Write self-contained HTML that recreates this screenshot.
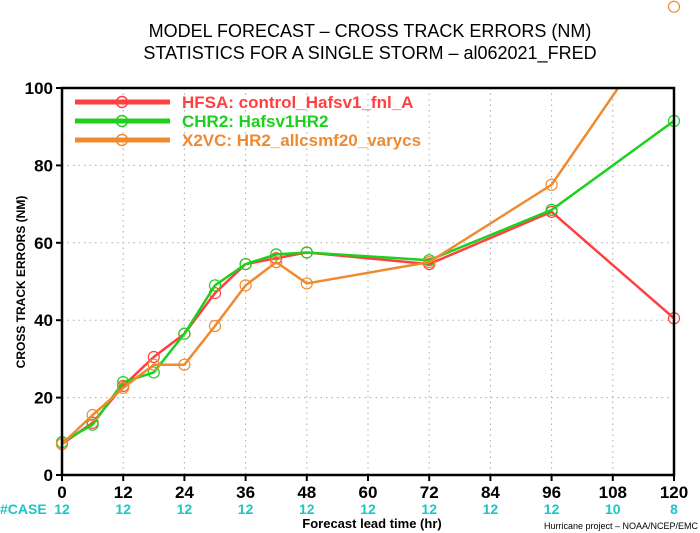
<!DOCTYPE html>
<html><head><meta charset="utf-8"><style>
body{margin:0;background:#fff}
svg{display:block;font-family:"Liberation Sans",sans-serif}
</style></head><body>
<svg id="chart" width="700" height="533" viewBox="0 0 700 533">
<defs><clipPath id="pc"><rect x="62" y="88" width="612" height="387"/></clipPath></defs>
<text x="370" y="37" text-anchor="middle" font-size="18" fill="#000">MODEL FORECAST – CROSS TRACK ERRORS (NM)</text>
<text x="370" y="59" text-anchor="middle" font-size="18" fill="#000">STATISTICS FOR A SINGLE STORM – al062021_FRED</text>
<g id="grid"></g>
<g id="series"></g>
<rect x="62" y="88" width="612" height="387" fill="none" stroke="#000" stroke-width="2.5"/>
<g id="axes"></g>
<text transform="translate(25,282) rotate(-90)" text-anchor="middle" font-size="12" font-weight="bold">CROSS TRACK ERRORS (NM)</text>
<text x="372" y="528" text-anchor="middle" font-size="13" font-weight="bold">Forecast lead time (hr)</text>
<text x="0" y="514" font-size="14" font-weight="bold" fill="#1cc6c6">#CASE</text>
<text x="698" y="529" text-anchor="end" font-size="9" fill="#000">Hurricane project – NOAA/NCEP/EMC</text>
<g id="legend"></g>
</svg>
<script>
const leadTimes=[0,6,12,18,24,30,36,42,48,72,96,120];
const hfsa=[8,13.5,23,30.5,36.5,47,54.5,56,57.5,54.5,68,40.5];
const chr2=[8.5,13,24,26.5,36.5,49,54.5,57,57.5,55.5,68.5,91.5];
const x2vc=[8,15.5,22.5,28.5,28.5,38.5,49,55,49.5,55,75,121];
const xTicks=[0,12,24,36,48,60,72,84,96,108,120];
const yTicks=[0,20,40,60,80,100];
const caseTicks=[0,12,24,36,48,60,72,84,96,108,120];
const caseCounts=[12,12,12,12,12,12,12,12,12,10,8];
const NS="http://www.w3.org/2000/svg";
const X=v=>62+v/120*612, Y=v=>475-v/100*387;
function mk(tag,attrs,parent,txt){const e=document.createElementNS(NS,tag);for(const k in attrs)e.setAttribute(k,attrs[k]);if(txt!=null)e.textContent=txt;parent.appendChild(e);return e;}
const grid=document.getElementById('grid'),axes=document.getElementById('axes'),ser=document.getElementById('series'),leg=document.getElementById('legend');
xTicks.forEach(t=>{
 if(t>0&&t<120){const l=mk('line',{x1:X(t),x2:X(t),y1:88,y2:475,stroke:'#aaa','stroke-dasharray':'1.5,4'},grid);
 
 }
 const tk=mk('line',{x1:X(t),x2:X(t),y1:475,y2:481,stroke:'#000','stroke-width':2},axes);
 
 
 const tx=mk('text',{x:X(t),y:498,'text-anchor':'middle','font-size':17,'font-weight':'bold'},axes,t);
 
 
});
caseTicks.forEach((t,i)=>{
 const c=mk('text',{x:X(t),y:514,'text-anchor':'middle','font-size':14,'font-weight':'bold',fill:'#1cc6c6'},axes,caseCounts[i]);
 
 
});
yTicks.forEach(t=>{
 if(t>0&&t<100){const l=mk('line',{x1:62,x2:674,y1:Y(t),y2:Y(t),stroke:'#aaa','stroke-dasharray':'1.5,4'},grid);
 
 }
 const tk=mk('line',{x1:56,x2:62,y1:Y(t),y2:Y(t),stroke:'#000','stroke-width':2},axes);
 
 
 const tx=mk('text',{x:53,y:Y(t)+6,'text-anchor':'end','font-size':17,'font-weight':'bold'},axes,t);
 
 
});
const series=[['hfsa',hfsa,'#ff4040'],['chr2',chr2,'#1ed01e'],['x2vc',x2vc,'#f08a30']];
series.forEach(([n,vals,col])=>{
 const g=mk('g',{},ser);
 
 
 const pl=mk('polyline',{points:leadTimes.map((t,i)=>X(t)+','+Y(vals[i])).join(' '),fill:'none',stroke:col,'stroke-width':2.5,'clip-path':'url(#pc)'},g);
 
 
 leadTimes.forEach((t,i)=>{
  const c=mk('circle',{cx:X(t),cy:Y(vals[i]),r:5.5,fill:'none',stroke:col,'stroke-width':1.2},g);
  
  
 });
});
const legItems=[['HFSA:  control_Hafsv1_fnl_A','#ff4040'],['CHR2:  Hafsv1HR2','#1ed01e'],['X2VC:  HR2_allcsmf20_varycs','#f08a30']];
legItems.forEach(([lab,col],i)=>{
 const y=102+i*19;
 const g=mk('g',{},leg);
 
 
 mk('line',{x1:75,x2:170,y1:y,y2:y,stroke:col,'stroke-width':5},g);
 mk('circle',{cx:122,cy:y,r:5.5,fill:'none',stroke:col,'stroke-width':1.5},g);
 mk('text',{x:182,y:y+6,'font-size':17,fill:col,'font-weight':'bold'},g,lab);
});
</script>
</body></html>
